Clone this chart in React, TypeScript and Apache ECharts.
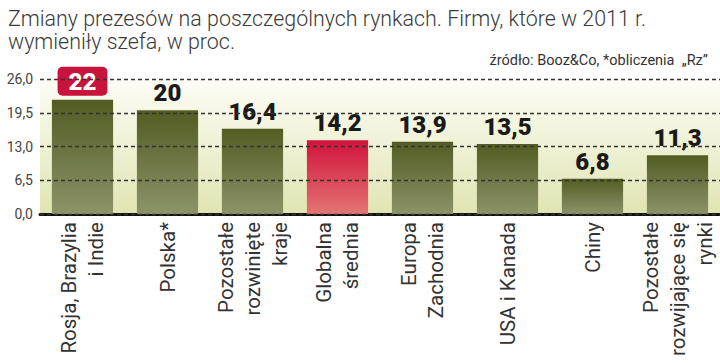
import React, { useEffect, useRef } from "react";
import * as echarts from "echarts";

const categories = [
  "Rosja, Brazylia\ni Indie",
  "Polska*",
  "Pozostałe\nrozwinięte\nkraje",
  "Globalna\nśrednia",
  "Europa\nZachodnia",
  "USA i Kanada",
  "Chiny",
  "Pozostałe\nrozwijające się\nrynki",
];
const values = [22, 20, 16.4, 14.2, 13.9, 13.5, 6.8, 11.3];
const valueLabels = ["22", "20", "16,4", "14,2", "13,9", "13,5", "6,8", "11,3"];
const highlightIndex = 3;
const badgeIndex = 0;
const yTicks = [0, 6.5, 13, 19.5, 26];

const titleText = "Zmiany prezesów na poszczególnych rynkach. Firmy, które w 2011 r.\nwymieniły szefa, w proc.";
const sourceText = "źródło: Booz&Co, *obliczenia  „Rz”";

const olive = new echarts.graphic.LinearGradient(0, 0, 0, 1, [
  { offset: 0, color: "#525c22" },
  { offset: 1, color: "#8c936a" },
]);
const red = new echarts.graphic.LinearGradient(0, 0, 0, 1, [
  { offset: 0, color: "#d0133b" },
  { offset: 1, color: "#e37473" },
]);

export default function App() {
  const ref = useRef<HTMLDivElement>(null);
  useEffect(() => {
    const chart = echarts.init(ref.current!, null, { renderer: "svg" });
    const labelBase = {
      show: true,
      position: "top",
      distance: 5,
      fontFamily: "Roboto",
      fontWeight: 900,
      fontSize: 24,
      lineHeight: 24,
      color: "#1a1a1a",
    };
    chart.setOption({
      animation: false,
      backgroundColor: "#ffffff",
      title: [
        {
          text: titleText,
          left: 3,
          top: 2,
          textStyle: {
            fontFamily: "Roboto",
            fontWeight: 300,
            fontSize: 21.4,
            lineHeight: 23,
            color: "#3a3a3a",
          },
        },
        {
          text: sourceText,
          right: 7,
          top: 48,
          textStyle: {
            fontFamily: "Roboto",
            fontWeight: "normal",
            fontSize: 14.5,
            color: "#333333",
          },
        },
      ],
      grid: {
        left: 40,
        right: 0,
        top: 79,
        bottom: 149,
        show: true,
        borderWidth: 0,
        backgroundColor: new echarts.graphic.LinearGradient(0, 0, 0, 1, [
          { offset: 0, color: "#fdfdf6" },
          { offset: 1, color: "#e0e5b2" },
        ]),
      },
      xAxis: {
        type: "category",
        data: categories,
        axisLine: { show: true, lineStyle: { color: "#111111", width: 3 } },
        axisTick: { show: false },
        axisLabel: {
          interval: 0,
          rotate: 90,
          margin: 8,
          fontFamily: "Roboto",
          fontSize: 20.5,
          lineHeight: 27,
          color: "#333333",
        },
      },
      yAxis: {
        type: "value",
        min: yTicks[0],
        max: yTicks[yTicks.length - 1],
        interval: 6.5,
        z: 5,
        axisLine: { show: false },
        axisTick: { show: false },
        axisLabel: {
          margin: 7,
          fontFamily: "Roboto",
          fontSize: 14,
          color: "#444444",
          formatter: (v: number) => v.toFixed(1).replace(".", ","),
        },
        splitLine: {
          show: true,
          lineStyle: { color: "#333333", type: [4, 3], width: 1.3 },
        },
      },
      series: [
        {
          type: "bar",
          barWidth: "72%",
          z: 2,
          data: values.map((v, i) => {
            const item: any = {
              value: v,
              itemStyle: { color: i === highlightIndex ? red : olive },
              label: { ...labelBase, formatter: () => valueLabels[i] },
            };
            if (i === badgeIndex) {
              item.label = {
                ...labelBase,
                formatter: () => valueLabels[i],
                color: "#ffffff",
                backgroundColor: "#c8143c",
                borderRadius: 5,
                padding: [3, 11, 2, 11],
                distance: 4,
              };
            }
            return item;
          }),
        },
      ],
    });
    return () => chart.dispose();
  }, []);
  return (
    <div
      ref={ref}
      style={{ position: "fixed", left: 0, top: 0, width: 720, height: 363 }}
    />
  );
}
